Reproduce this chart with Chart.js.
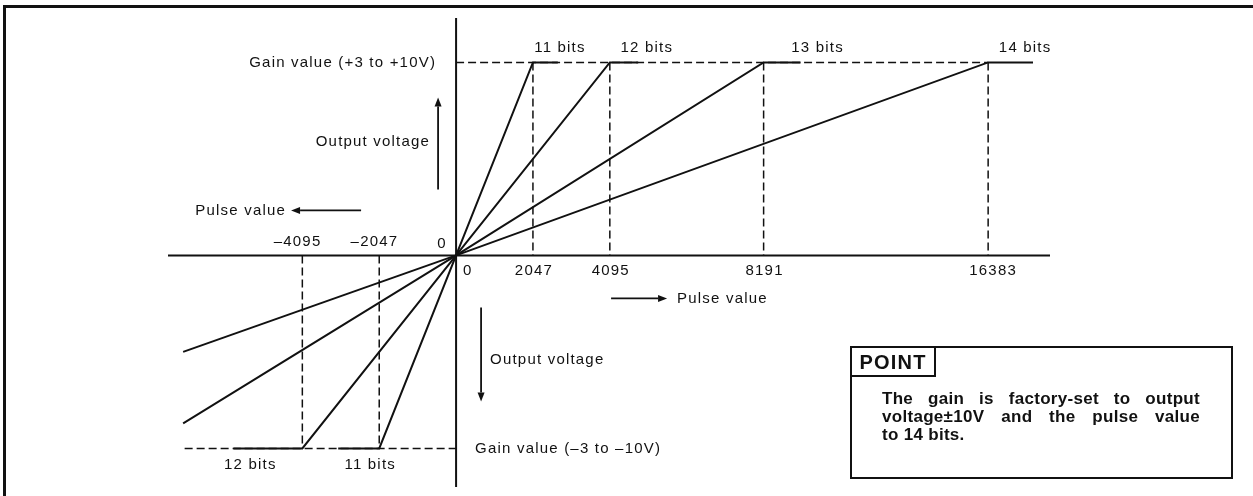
<!DOCTYPE html>
<html>
<head>
<meta charset="utf-8">
<script src="https://cdn.jsdelivr.net/npm/chart.js@4.4.1/dist/chart.umd.min.js"></script>
<style>
  html, body { margin: 0; padding: 0; background: #fff; }
  #wrap { position: relative; width: 1253px; height: 496px; overflow: hidden; }
  #frame { position: absolute; left: 3px; top: 5px; width: 1300px; height: 600px;
           border-left: 3px solid #111; border-top: 3px solid #111; }
  #chart { position: absolute; left: 0; top: 0; }
  #point { position: absolute; left: 850px; top: 346px; width: 383px; height: 133px;
           box-sizing: border-box; border: 2px solid #111;
           font-family: "Liberation Sans", Arial, sans-serif; color: #111; }
  #point .tab { position: absolute; left: 0; top: 0; width: 82px; height: 27px;
                border-right: 2px solid #111; border-bottom: 2px solid #111;
                font-weight: bold; font-size: 20px; letter-spacing: 1.2px;
                line-height: 28px; text-align: center; }
  #point .body { position: absolute; left: 30px; top: 42px; width: 318px;
                 font-weight: bold; font-size: 17px; line-height: 18px; letter-spacing: 0.3px; }
  #point .just { text-align: justify; text-align-last: justify; }
</style>
</head>
<body>
<div id="wrap">
  <div id="frame"></div>
  <canvas id="chart" width="1253" height="496"></canvas>
  <div id="point">
    <div class="tab">POINT</div>
    <div class="body">
      <div class="just">The gain is factory-set to output</div>
      <div class="just">voltage±10V and the pulse value</div>
      <div>to 14 bits.</div>
    </div>
  </div>
</div>
<script>
// pulse value where each resolution reaches the gain value
const bitLabels = ["11 bits", "12 bits", "13 bits", "14 bits"];
const fullScale = [2047, 4095, 8191, 16383];
const plateauEnd = [2710, 4850, 9540, 18020];
const gainV = 10;

// negative side as drawn (only 11 and 12 bits reach the gain inside the frame)
const negBitLabels = ["12 bits", "11 bits"];
const negFullScale = [-4095, -2047];
const negPlateauEnd = [-5930, -3140];
const negEdgeX = -7270;
const negEdgeV = [-8.7, -5.0];   // 13 and 14 bit lines where they leave the picture
const negGuideStart = -7230;

const posTicks = [0, 2047, 4095, 8191, 16383];
const negTicks = [-4095, -2047];

// the drawing is not to scale past 8191: squeeze that part of the axis
const xKnee = 8191;
const xSqueeze = 0.73;

class WarpScale extends Chart.LinearScale {
  static id = "warp";
  squeeze(v) { return v > xKnee ? xKnee + (v - xKnee) * xSqueeze : v; }
  unsqueeze(v) { return v > xKnee ? xKnee + (v - xKnee) / xSqueeze : v; }
  getPixelForValue(value) {
    const lo = this.squeeze(this.min), hi = this.squeeze(this.max);
    return this.getPixelForDecimal((this.squeeze(value) - lo) / (hi - lo));
  }
  getValueForPixel(pixel) {
    const lo = this.squeeze(this.min), hi = this.squeeze(this.max);
    return this.unsqueeze(lo + this.getDecimalForPixel(pixel) * (hi - lo));
  }
}
Chart.register(WarpScale);

const ink = "#111";
const FONT = '15px "Liberation Sans", Arial, sans-serif';

const dashed = { borderColor: ink, borderWidth: 1.5, borderDash: [8, 4], pointRadius: 0, showLine: true, clip: false };
const solid = { borderColor: ink, borderWidth: 2, pointRadius: 0, showLine: true, clip: false };

const datasets = [];
datasets.push({ ...dashed, data: [{ x: 0, y: gainV }, { x: fullScale[3], y: gainV }] });
fullScale.forEach(v => datasets.push({ ...dashed, data: [{ x: v, y: gainV }, { x: v, y: 0 }] }));
datasets.push({ ...dashed, data: [{ x: negGuideStart, y: -gainV }, { x: 0, y: -gainV }] });
negFullScale.forEach(v => datasets.push({ ...dashed, data: [{ x: v, y: 0 }, { x: v, y: -gainV }] }));

fullScale.forEach((v, i) => datasets.push({ ...solid,
  data: [{ x: 0, y: 0 }, { x: v, y: gainV }, { x: plateauEnd[i], y: gainV }] }));
negFullScale.forEach((v, i) => datasets.push({ ...solid,
  data: [{ x: 0, y: 0 }, { x: v, y: -gainV }, { x: negPlateauEnd[i], y: -gainV }] }));
negEdgeV.forEach(v => datasets.push({ ...solid, data: [{ x: 0, y: 0 }, { x: negEdgeX, y: v }] }));

function arrow(ctx, x1, y1, x2, y2) {
  // line from (x1,y1) with a filled head at (x2,y2)
  const a = Math.atan2(y2 - y1, x2 - x1), len = 9, w = 3.5;
  ctx.beginPath();
  ctx.moveTo(x1, y1);
  ctx.lineTo(x2 - Math.cos(a) * len, y2 - Math.sin(a) * len);
  ctx.stroke();
  ctx.beginPath();
  ctx.moveTo(x2, y2);
  ctx.lineTo(x2 - Math.cos(a) * len - Math.sin(a) * w, y2 - Math.sin(a) * len + Math.cos(a) * w);
  ctx.lineTo(x2 - Math.cos(a) * len + Math.sin(a) * w, y2 - Math.sin(a) * len - Math.cos(a) * w);
  ctx.closePath();
  ctx.fill();
}

function text(ctx, s, x, y, align) {
  ctx.textAlign = align || "center";
  ctx.fillText(s, x, y);
}

const overlay = {
  id: "overlay",
  beforeDatasetsDraw(chart) {
    const { ctx, chartArea: a, scales: { x, y } } = chart;
    const ox = x.getPixelForValue(0), oy = y.getPixelForValue(0);
    ctx.save();
    ctx.strokeStyle = ink;
    ctx.lineWidth = 2;
    ctx.beginPath();
    ctx.moveTo(a.left, oy); ctx.lineTo(a.right, oy);
    ctx.moveTo(ox, a.top); ctx.lineTo(ox, a.bottom);
    ctx.stroke();
    ctx.restore();
  },
  afterDatasetsDraw(chart) {
    const { ctx, scales: { x, y } } = chart;
    const ox = x.getPixelForValue(0), oy = y.getPixelForValue(0);
    const top = y.getPixelForValue(gainV), bottom = y.getPixelForValue(-gainV);
    ctx.save();
    ctx.fillStyle = ink;
    ctx.strokeStyle = ink;
    ctx.lineWidth = 1.8;
    ctx.font = FONT;
    ctx.letterSpacing = "1.2px";
    ctx.textBaseline = "middle";

    // tick labels
    posTicks.forEach(v => {
      const px = x.getPixelForValue(v);
      if (v === 0) text(ctx, "0", px + 7, oy + 15, "left");
      else text(ctx, String(v), px + (v === 16383 ? 5 : 1), oy + 15);
    });
    text(ctx, "0", ox - 14, oy - 12);
    negTicks.forEach(v => {
      const px = x.getPixelForValue(v);
      const half = ctx.measureText(String(-v)).width / 2;
      text(ctx, "\u2013" + (-v), px + half, oy - 14, "right");
    });

    // resolution labels
    const upOff = [27, 37, 54, 37];
    fullScale.forEach((v, i) => text(ctx, bitLabels[i], x.getPixelForValue(v) + upOff[i], top - 15));
    const downOff = [-52, -9];
    negFullScale.forEach((v, i) => text(ctx, negBitLabels[i], x.getPixelForValue(v) + downOff[i], bottom + 16));

    // gain labels
    text(ctx, "Gain value (+3 to +10V)", ox - 20, top, "right");
    text(ctx, "Gain value (\u20133 to \u201310V)", ox + 19, bottom, "left");

    // direction hints
    text(ctx, "Output voltage", ox - 26, oy - 114, "right");
    arrow(ctx, ox - 18, oy - 66, ox - 18, oy - 158);
    arrow(ctx, ox - 95, oy - 45, ox - 165, oy - 45);
    text(ctx, "Pulse value", ox - 170, oy - 45, "right");
    arrow(ctx, ox + 155, oy + 43, ox + 211, oy + 43);
    text(ctx, "Pulse value", ox + 221, oy + 43, "left");
    arrow(ctx, ox + 25, oy + 52, ox + 25, oy + 146);
    text(ctx, "Output voltage", ox + 34, oy + 104, "left");
    ctx.restore();
  }
};

new Chart(document.getElementById("chart"), {
  type: "scatter",
  data: { datasets },
  options: {
    responsive: false,
    animation: false,
    devicePixelRatio: 1,
    layout: { padding: { left: 168, right: 203, top: 18, bottom: 9 } },
    plugins: { legend: { display: false }, tooltip: { enabled: false } },
    elements: { line: { tension: 0 } },
    scales: {
      x: { type: "warp", min: -7673, max: 18640, display: false },
      y: { type: "linear", min: -12, max: 12.3, display: false }
    }
  },
  plugins: [overlay]
});
</script>
</body>
</html>
